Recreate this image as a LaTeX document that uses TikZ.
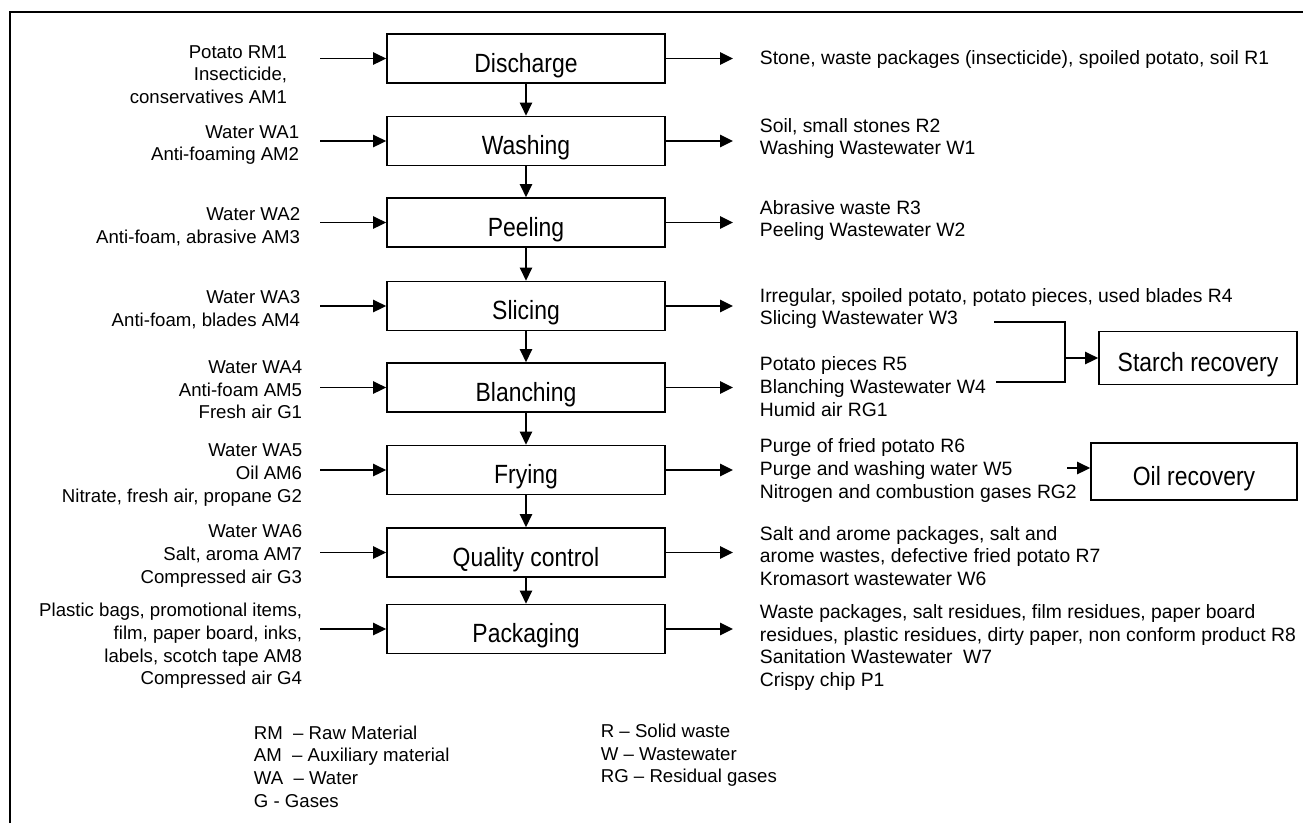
\documentclass[tikz,border=0pt]{standalone}
\usepackage{fontspec}
\setmainfont{Liberation Sans}
\newfontfamily\stagefont{Liberation Sans}[FakeStretch=0.87]
\usetikzlibrary{arrows.meta,positioning}
\tikzstyle{every node}=[font=\fontsize{10.6}{12.9}\selectfont]
\tikzstyle{every path}=[line width=1pt]
\tikzstyle{stage}=[draw,minimum width=5.56cm,minimum height=0.98cm,inner sep=0pt,text height=15.8pt,text depth=0pt,font=\stagefont\fontsize{15}{18}\selectfont]
\tikzstyle{recovery}=[stage,minimum width=3.96cm,minimum height=1.06cm]
\tikzstyle{flow}=[-{Triangle[length=7.4pt,width=7pt]}]
\tikzstyle{inlabel}=[anchor=east,align=right,inner sep=0pt]
\tikzstyle{outlabel}=[anchor=west,align=left,inner sep=0pt,font=\fontsize{11}{13}\selectfont]

\begin{document}
\begin{tikzpicture}[x=0.02cm,y=-0.02cm]
    \useasboundingbox (0,0) rectangle (1303,823);
    % Frame (cut at right and bottom)
    \draw[line width=1.2pt] (10,823) -- (10,12) -- (1303,12);

    % Process stages
    \node[stage] (discharge) at (526,58.5) {Discharge};
    \node[stage] (washing) at (526,141) {Washing};
    \node[stage] (peeling) at (526,222.5) {Peeling};
    \node[stage] (slicing) at (526,306) {Slicing};
    \node[stage] (blanching) at (526,387.5) {Blanching};
    \node[stage] (frying) at (526,470) {Frying};
    \node[stage] (quality) at (526,552.5) {Quality control};
    \node[stage] (packaging) at (526,629) {Packaging};

    % Arrow ends for inputs and outputs
    \coordinate (inx) at (320,0);
    \coordinate (outx) at (733,0);

    \foreach \s [remember=\s as \p (initially discharge)] in {washing,peeling,slicing,blanching,frying,quality,packaging}
        \draw[flow] (\p.south) -- (\s.north);
    \foreach \s in {discharge,washing,peeling,slicing,blanching,frying,quality,packaging} {
        \draw[flow] (\s.west -| inx) -- (\s.west);
        \draw[flow] (\s.east) -- (\s.east -| outx);
    }

    % Inputs
    \node[inlabel] (in-discharge) at (288,74.5) {Potato RM1\\Insecticide,\\conservatives AM1};
    \node[inlabel] (in-washing) at (300,145) {Water WA1\\Anti-foaming AM2};
    \node[inlabel] (in-peeling) at (301,226.5) {Water WA2\\Anti-foam, abrasive AM3};
    \node[inlabel] (in-slicing) at (301,310) {Water WA3\\Anti-foam, blades AM4};
    \node[inlabel] (in-blanching) at (303,390) {Water WA4\\Anti-foam AM5\\Fresh air G1};
    \node[inlabel] (in-frying) at (303,475) {Water WA5\\Oil AM6\\Nitrate, fresh air, propane G2};
    \node[inlabel] (in-quality) at (303,556) {Water WA6\\Salt, aroma AM7\\Compressed air G3};
    \node[inlabel] (in-packaging) at (303,646) {Plastic bags, promotional items,\\film, paper board, inks,\\labels, scotch tape AM8\\Compressed air G4};

    % Outputs
    \node[outlabel] (out-discharge) at (759,59) {Stone, waste packages (insecticide), spoiled potato, soil R1};
    \node[outlabel] (out-washing) at (759,138.5) {Soil, small stones R2\\Washing Wastewater W1};
    \node[outlabel] (out-peeling) at (759,220.5) {Abrasive waste R3\\Peeling Wastewater W2};
    \node[outlabel] (out-slicing) at (759,308.5) {Irregular, spoiled potato, potato pieces, used blades R4\\Slicing Wastewater W3};
    \node[outlabel] (out-blanching) at (759,386.5) {Potato pieces R5\\Blanching Wastewater W4\\Humid air RG1};
    \node[outlabel] (out-frying) at (759,470.5) {Purge of fried potato R6\\Purge and washing water W5\\Nitrogen and combustion gases RG2};
    \node[outlabel] (out-quality) at (759,556) {Salt and arome packages, salt and\\arome wastes, defective fried potato R7\\Kromasort wastewater W6};
    \node[outlabel] (out-packaging) at (759,647.5) {Waste packages, salt residues, film residues, paper board\\residues, plastic residues, dirty paper, non conform product R8\\Sanitation Wastewater~~W7\\Crispy chip P1};

    % Recovery
    \node[recovery] (starch) at (1198,358) {Starch recovery};
    \node[recovery,minimum width=4.12cm,minimum height=1.14cm] (oil) at (1194,471.5) {Oil recovery};
    \coordinate (w3) at (994,322);
    \coordinate (w4) at (996,382);
    \coordinate (join) at (1065,358);
    \coordinate (w5) at (1067,468);
    \draw (w3) -| (join) |- (w4);
    \draw[flow] (join) -- (starch.west);
    \draw[flow] (w5) -- (w5 -| oil.west);

    % Legend
    \node[outlabel,font=\fontsize{10.6}{12.9}\selectfont] (legend-in) at (253,766.5) {RM~~– Raw Material\\AM~~– Auxiliary material\\WA~~– Water\\G - Gases};
    \node[outlabel,font=\fontsize{10.6}{12.9}\selectfont] (legend-out) at (600,755.5) {R – Solid waste\\W – Wastewater\\RG – Residual gases};
\end{tikzpicture}
\end{document}
